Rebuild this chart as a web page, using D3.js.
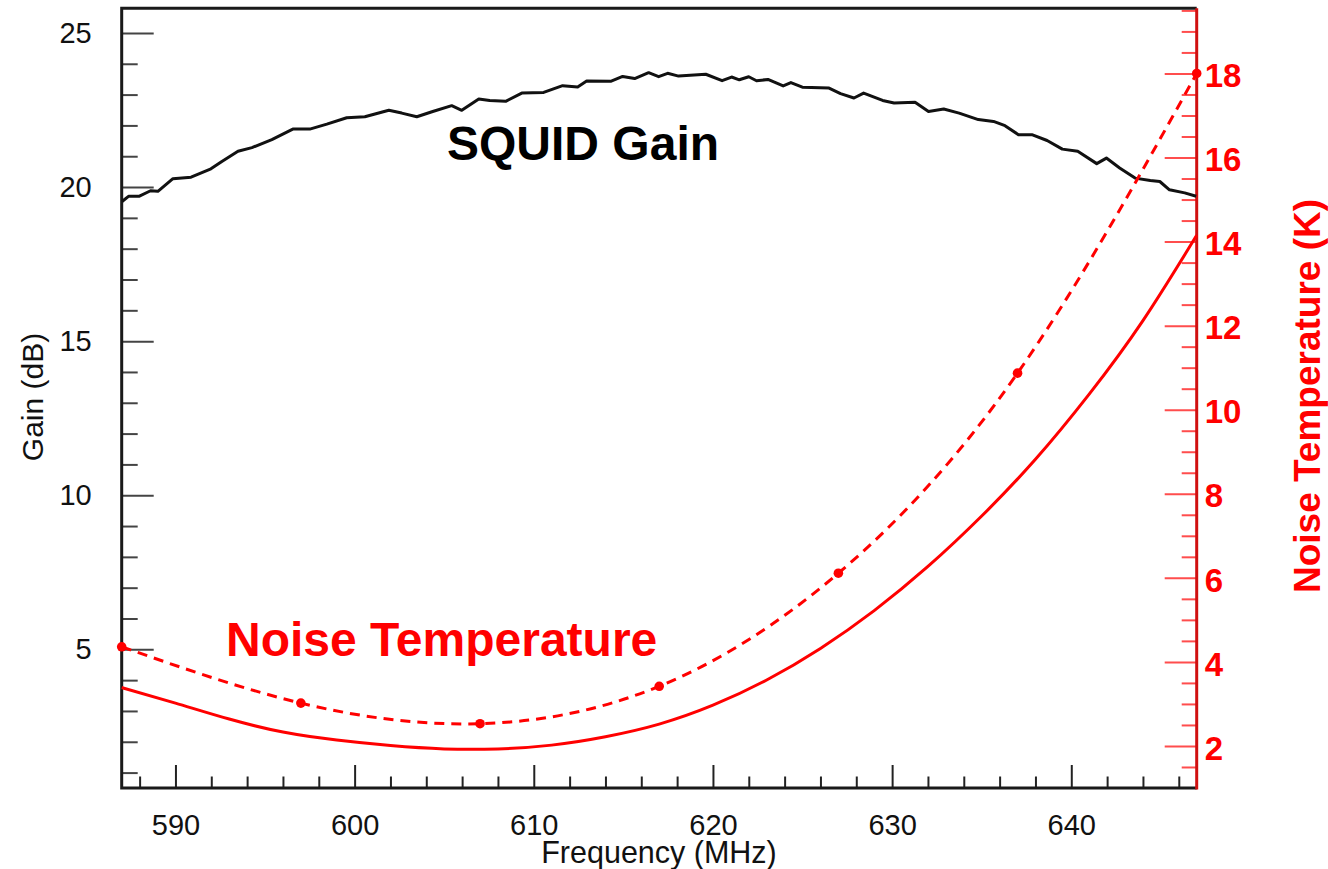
<!DOCTYPE html>
<html>
<head>
<meta charset="utf-8">
<script src="https://cdn.jsdelivr.net/npm/d3@7"></script>
<style>
  html, body { margin: 0; padding: 0; background: #fff; }
  svg { display: block; }
  text { font-family: "Liberation Sans", Arial, Helvetica, sans-serif; }
</style>
</head>
<body>
<svg id="chart" width="1328" height="869"></svg>
<script>
// SQUID amplifier: measured gain trace (left axis) and noise temperature (right axis)
const gainFreq = [587.02, 587.38, 587.96, 588.61, 589.02, 589.86, 590.87, 591.98, 592.59, 593.49,
  594.27, 595.38, 596.55, 597.50, 598.45, 599.56, 600.57, 601.91, 602.63, 603.47,
  604.36, 605.42, 605.98, 606.93, 607.54, 608.43, 609.33, 610.55, 611.61, 612.45,
  612.95, 614.29, 614.96, 615.63, 616.41, 616.97, 617.47, 618.08, 619.60, 620.51,
  621.04, 621.47, 622.00, 622.43, 623.07, 623.92, 624.35, 624.99, 626.48, 627.12,
  627.87, 628.41, 629.47, 630.11, 631.28, 632.03, 632.88, 633.74, 634.81, 635.66,
  636.30, 637.05, 637.80, 638.65, 639.50, 640.36, 641.42, 641.96, 642.70, 643.56,
  644.41, 644.94, 645.48, 646.33, 646.97];
const gainDb = [19.53, 19.70, 19.70, 19.88, 19.86, 20.27, 20.32, 20.59, 20.83, 21.16,
  21.28, 21.54, 21.88, 21.88, 22.04, 22.25, 22.28, 22.49, 22.40, 22.28,
  22.45, 22.64, 22.49, 22.86, 22.81, 22.78, 23.05, 23.07, 23.29, 23.25,
  23.44, 23.43, 23.59, 23.52, 23.71, 23.58, 23.69, 23.60, 23.66, 23.45,
  23.57, 23.48, 23.58, 23.45, 23.49, 23.28, 23.39, 23.24, 23.21, 23.03,
  22.89, 23.05, 22.81, 22.73, 22.75, 22.45, 22.53, 22.40, 22.19, 22.13,
  21.99, 21.70, 21.70, 21.51, 21.23, 21.16, 20.76, 20.94, 20.62, 20.29,
  20.21, 20.18, 19.91, 19.81, 19.70];

// Measured noise temperature points (K)
const noiseFreq = [587, 597, 607, 617, 627, 637, 647];
const noiseK = [4.36, 3.02, 2.53, 3.42, 6.11, 10.87, 18.0];

// Fitted noise temperature curve (K)
const fitFreq = [587, 590, 593, 596, 599, 602, 605, 608, 611, 614, 617, 620, 623, 626, 629, 632, 635, 638, 641, 644, 647];
const fitK = [3.39, 3.02, 2.64, 2.33, 2.14, 2.01, 1.93, 1.93, 2.02, 2.22, 2.52, 2.97, 3.57, 4.32, 5.22, 6.27, 7.47, 8.82, 10.37, 12.12, 14.15];

// Axis ticks
const freqMajor = [590, 600, 610, 620, 630, 640];
const freqMinor = d3.range(588, 647, 2).filter(v => v % 10 !== 0);
const gainMajor = [5, 10, 15, 20, 25];
const gainMinor = d3.range(1, 26, 1).filter(v => v % 5 !== 0);
const noiseMajor = [2, 4, 6, 8, 10, 12, 14, 16, 18];
const noiseMinor = d3.range(1.5, 19.6, 0.5).filter(v => v % 2 !== 0);

const RED = "#ff0000";
const frameL = 121.7, frameR = 1196.7, frameT = 8.3, frameB = 788;

const svg = d3.select("#chart");

const x = d3.scaleLinear().domain([587, 647]).range([frameL, frameR]);
const yGain = d3.scaleLinear().domain([0.5, 25.8]).range([frameB, frameT]);
const yNoise = d3.scaleLinear().domain([1, 19.55]).range([frameB, frameT]);

const FONT = "'Liberation Sans', Arial, sans-serif";

// Bottom axis
const gx = svg.append("g").attr("transform", `translate(0,${frameB})`);
gx.append("g").call(d3.axisBottom(x).tickValues(freqMinor).tickSize(-11.5).tickFormat(""))
  .call(g => g.select(".domain").remove())
  .call(g => g.selectAll("line").attr("stroke", "#222").attr("stroke-width", 2));
gx.append("g").call(d3.axisBottom(x).tickValues(freqMajor).tickSize(-23).tickPadding(26).tickFormat(d3.format("d")))
  .call(g => g.select(".domain").remove())
  .call(g => g.selectAll("line").attr("stroke", "#222").attr("stroke-width", 2))
  .call(g => g.selectAll("text").attr("fill", "#111").style("font-size", "29px").style("font-family", FONT));

// Left axis (gain)
const gl = svg.append("g").attr("transform", `translate(${frameL},0)`);
gl.append("g").call(d3.axisLeft(yGain).tickValues(gainMinor).tickSize(-16).tickFormat(""))
  .call(g => g.select(".domain").remove())
  .call(g => g.selectAll("line").attr("stroke", "#444").attr("stroke-width", 2));
gl.append("g").call(d3.axisLeft(yGain).tickValues(gainMajor).tickSize(-32).tickPadding(30).tickFormat(d3.format("d")))
  .call(g => g.select(".domain").remove())
  .call(g => g.selectAll("line").attr("stroke", "#444").attr("stroke-width", 2))
  .call(g => g.selectAll("text").attr("fill", "#111").style("font-size", "29px").style("font-family", FONT));

// Right axis (noise temperature)
const gr = svg.append("g").attr("transform", `translate(${frameR},0)`);
gr.append("g").call(d3.axisRight(yNoise).tickValues(noiseMinor).tickSize(-15).tickFormat(""))
  .call(g => g.select(".domain").remove())
  .call(g => g.selectAll("line").attr("stroke", "#ff4d4d").attr("stroke-width", 2));
gr.append("g").call(d3.axisRight(yNoise).tickValues(noiseMajor).tickSize(-32).tickPadding(8).tickFormat(d3.format("d")))
  .call(g => g.select(".domain").remove())
  .call(g => g.selectAll("line").attr("stroke", "#ff4d4d").attr("stroke-width", 2))
  .call(g => g.selectAll("text").attr("fill", RED).attr("dy", "0.4em")
    .style("font-size", "33px").style("font-weight", "bold").style("font-family", FONT));

// Frame
svg.append("path")
  .attr("d", `M${frameR},${frameT} L${frameL},${frameT} L${frameL},${frameB} L${frameR},${frameB}`)
  .attr("fill", "none").attr("stroke", "#1a1a1a").attr("stroke-width", 3);
svg.append("line")
  .attr("x1", frameR).attr("x2", frameR).attr("y1", frameT).attr("y2", frameB + 1.5)
  .attr("stroke", "#d01010").attr("stroke-width", 3);

// Gain trace
svg.append("path")
  .datum(d3.zip(gainFreq, gainDb))
  .attr("fill", "none").attr("stroke", "#111").attr("stroke-width", 3)
  .attr("stroke-linejoin", "round")
  .attr("d", d3.line().x(d => x(d[0])).y(d => yGain(d[1])));

// Fitted noise curve
svg.append("path")
  .datum(d3.zip(fitFreq, fitK))
  .attr("fill", "none").attr("stroke", RED).attr("stroke-width", 3)
  .attr("d", d3.line().curve(d3.curveNatural).x(d => x(d[0])).y(d => yNoise(d[1])));

// Measured noise points joined by a dashed smooth curve
svg.append("path")
  .datum(d3.zip(noiseFreq, noiseK))
  .attr("fill", "none").attr("stroke", RED).attr("stroke-width", 3)
  .attr("stroke-dasharray", "10,7")
  .attr("d", d3.line().curve(d3.curveNatural).x(d => x(d[0])).y(d => yNoise(d[1])));
svg.append("g").selectAll("circle")
  .data(d3.zip(noiseFreq, noiseK))
  .join("circle")
  .attr("cx", d => x(d[0])).attr("cy", d => yNoise(d[1])).attr("r", 4.8)
  .attr("fill", RED);

// Axis titles
svg.append("text")
  .attr("transform", "translate(43,397) rotate(-90)")
  .attr("text-anchor", "middle").attr("fill", "#111")
  .style("font-size", "30px")
  .text("Gain (dB)");
svg.append("text")
  .attr("x", 659).attr("y", 863)
  .attr("text-anchor", "middle").attr("fill", "#111")
  .style("font-size", "30.5px")
  .text("Frequency (MHz)");
svg.append("text")
  .attr("transform", "translate(1320,396) rotate(-90)")
  .attr("text-anchor", "middle").attr("fill", RED)
  .style("font-size", "37px").style("font-weight", "bold")
  .text("Noise Temperature (K)");

// Curve labels
svg.append("text")
  .attr("x", 447).attr("y", 160).attr("fill", "#000")
  .style("font-size", "48px").style("font-weight", "bold")
  .text("SQUID Gain");
svg.append("text")
  .attr("x", 226).attr("y", 656).attr("fill", RED)
  .style("font-size", "48px").style("font-weight", "bold")
  .text("Noise Temperature");
</script>
</body>
</html>
